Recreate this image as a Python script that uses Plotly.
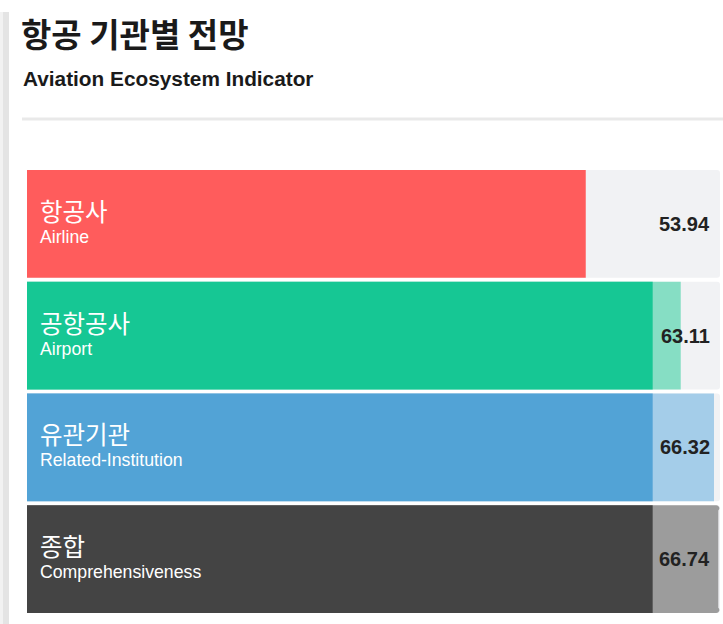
import plotly.graph_objects as go

# ---- data ----
labels_ko = ["항공사", "공항공사", "유관기관", "종합"]
labels_en = ["Airline", "Airport", "Related-Institution", "Comprehensiveness"]
values = [53.94, 63.11, 66.32, 66.74]
base_level = 60.4          # level where the solid part of each bar stops
scale_max = 66.9           # full width of the grey track

main_colors = ["#FF5C5C", "#16C794", "#52A3D6", "#444444"]
light_colors = ["#FF5C5C", "#86DEC4", "#A4CDE9", "#9C9C9C"]
track_color = "#F1F2F4"

title_text = "항공 기관별 전망"
subtitle_text = "Aviation Ecosystem Indicator"

# ---- layout geometry (pixels) ----
W, H = 723, 624
ML, MR, MT, MB = 27, 3, 168, 9
PW, PH = W - ML - MR, H - MT - MB


def px_x(px):
    return (px - ML) / PW


def px_y(py):
    return (H - MB - py) / PH


KO = "Noto Sans CJK KR"
EN = "Liberation Sans, Arial, sans-serif"

fig = go.Figure()

# background track
fig.add_trace(go.Bar(
    y=labels_en, x=[scale_max] * len(values), orientation="h",
    marker=dict(color=track_color, cornerradius=3, line=dict(width=0)),
    hoverinfo="skip", showlegend=False,
))
# total value (light part above base level)
fig.add_trace(go.Bar(
    y=labels_en, x=values, orientation="h",
    marker=dict(color=[lc if v > base_level else mc for v, lc, mc in zip(values, light_colors, main_colors)],
                cornerradius=3, line=dict(width=0)),
    hoverinfo="skip", showlegend=False,
))
# solid part up to base level
fig.add_trace(go.Bar(
    y=labels_en, x=[base_level if v > base_level else None for v in values], orientation="h",
    marker=dict(color=main_colors, cornerradius=0, line=dict(width=0)),
    hoverinfo="skip", showlegend=False,
))

annotations = []
for ko, en, v in zip(labels_ko, labels_en, values):
    annotations.append(dict(
        x=0, y=en, xref="x", yref="y", xanchor="left", yanchor="middle",
        xshift=11, yshift=4, showarrow=False, align="left",
        text=(f"<span style='font-family:{KO};font-size:24.5px'>{ko}</span><br>"
              f"<span style='font-size:17.7px'>{en}</span>"),
        font=dict(family=EN, size=17, color="white"),
    ))
    annotations.append(dict(
        x=px_x(712), y=en, xref="paper", yref="y", xanchor="right", yanchor="middle",
        text=f"{v:.2f}", showarrow=False,
        font=dict(family=EN, size=20, color="#222222", weight="bold"),
    ))

annotations.append(dict(
    x=px_x(21), y=px_y(78), xref="paper", yref="paper", xanchor="left", yanchor="middle",
    text=subtitle_text, showarrow=False,
    font=dict(family=EN, size=20.8, color="#1a1a1a", weight="bold"),
))

shapes = [
    # separator line under the header
    dict(type="line", xref="paper", yref="paper", x0=px_x(22), x1=px_x(W + 5),
         y0=px_y(119), y1=px_y(119), line=dict(color="#E9E9E9", width=3), layer="below"),
    # card edge shadow on the left
    dict(type="rect", xref="paper", yref="paper", x0=px_x(3), x1=px_x(9),
         y0=px_y(H + 2), y1=px_y(12), fillcolor="#E4E4E4", line=dict(width=0), layer="below"),
    dict(type="rect", xref="paper", yref="paper", x0=px_x(0), x1=px_x(3),
         y0=px_y(H + 2), y1=px_y(12), fillcolor="#F2F2F2", line=dict(width=0), layer="below"),
]

fig.update_layout(
    width=W, height=H,
    margin=dict(l=ML, r=MR, t=MT, b=MB, pad=0),
    paper_bgcolor="white", plot_bgcolor="white",
    barmode="overlay", bargap=0.035,
    title=dict(text=f"<b>{title_text}</b>", x=21 / W, xanchor="left", xref="container",
               y=1 - 35 / H, yanchor="middle", yref="container",
               font=dict(family=KO, size=33, color="#1a1a1a")),
    xaxis=dict(range=[0, scale_max], visible=False, fixedrange=True),
    yaxis=dict(categoryorder="array", categoryarray=labels_en, autorange="reversed",
               visible=False, fixedrange=True),
    annotations=annotations,
    shapes=shapes,
    showlegend=False,
)

fig.write_html(
    "out.html",
    config={"displayModeBar": False},
    post_script="document.body.style.margin='0';document.body.style.overflow='hidden';",
)
